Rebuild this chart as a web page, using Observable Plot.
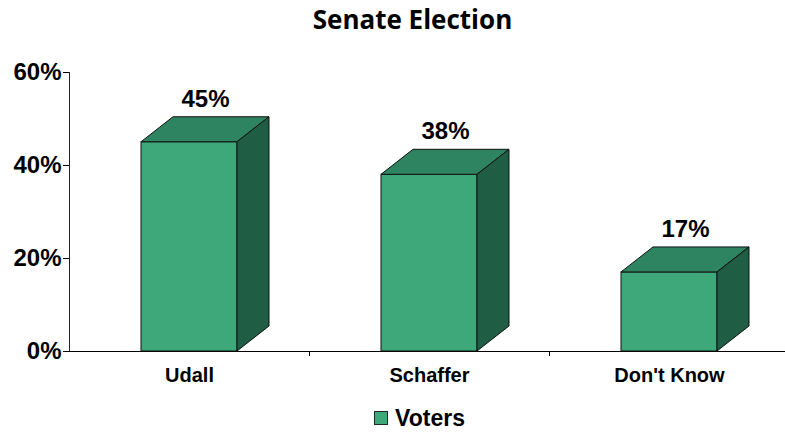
<!DOCTYPE html>
<html><head><meta charset="utf-8">
<script src="https://cdn.jsdelivr.net/npm/d3@7"></script>
<script src="https://cdn.jsdelivr.net/npm/@observablehq/plot@0.6"></script>
<style>
html,body{margin:0;padding:0;background:#fff;}
body{width:785px;height:433px;overflow:hidden;position:relative;font-family:"Liberation Sans",Arial,sans-serif;color:#000;}
#title{position:absolute;left:0;top:0;width:785px;height:38px;line-height:38px;text-align:center;font-family:"Open Sans",sans-serif;font-weight:bold;font-size:26px;}
#title span{position:relative;left:20px;}
#chart{position:absolute;left:0;top:40px;width:789px;}
#legend{position:absolute;left:0;top:402px;width:785px;height:32px;display:flex;align-items:center;justify-content:center;font-weight:bold;font-size:23px;}
#legend .in{position:relative;left:27px;display:flex;align-items:center;}
#legend .sw{display:inline-block;width:12px;height:12px;border:1px solid #1a2a20;margin-right:7px;}
</style></head>
<body>
<div id="title"><span>Senate Election</span></div>
<div id="chart"></div>
<div id="legend"><div class="in"><span class="sw"></span><span id="legtext"></span></div></div>
<script>
const categories = ["Udall", "Schaffer", "Don't Know"];
const values = [45, 38, 17];
const yTicks = [0, 20, 40, 60];
const seriesName = "Voters";

const frontColor = "#3EA87B";
const topColor = "#2E8461";
const sideColor = "#1F5E45";
const edgeColor = "#111";
const DX = 32, DY = 25;

const data = categories.map((c, i) => ({category: c, value: values[i]}));

function poly(doc, pts, fill) {
  const p = doc.createElementNS("http://www.w3.org/2000/svg", "polygon");
  p.setAttribute("points", pts.map(q => q.join(",")).join(" "));
  p.setAttribute("fill", fill);
  p.setAttribute("stroke", edgeColor);
  p.setAttribute("stroke-width", 1);
  p.setAttribute("stroke-linejoin", "round");
  return p;
}
function line(doc, x1, y1, x2, y2, color) {
  const l = doc.createElementNS("http://www.w3.org/2000/svg", "line");
  l.setAttribute("x1", x1); l.setAttribute("y1", y1);
  l.setAttribute("x2", x2); l.setAttribute("y2", y2);
  l.setAttribute("stroke", color); l.setAttribute("stroke-width", 1);
  return l;
}

const bars = Plot.barY(data, {
  x: "category", y: "value", fill: frontColor, stroke: edgeColor, strokeWidth: 1,
  render(index, scales, vals, dims, context, next) {
    const g = next(index, scales, vals, dims, context);
    const doc = context.document;
    const rects = Array.from(g.querySelectorAll("rect"));
    const y0 = scales.y(0);
    const boxes = rects.map(r => ({
      x: +r.getAttribute("x"), w: +r.getAttribute("width"),
      y: +r.getAttribute("y"), h: +r.getAttribute("height")
    }));
    const xl = dims.marginLeft, xr = dims.width - dims.marginRight;
    g.insertBefore(line(doc, xl, y0 + 0.5, xr, y0 + 0.5, "#000"), g.firstChild);
    g.insertBefore(line(doc, xl + 0.5, scales.y(d3.max(yTicks)), xl + 0.5, y0 + 0.5, "#222"), g.firstChild);
    const step = boxes.length > 1 ? boxes[1].x - boxes[0].x : boxes[0].w * 2.5;
    boxes.forEach(b => {
      const bx = b.x + b.w / 2 + step / 2;
      g.appendChild(line(doc, Math.round(bx) + 0.5, y0, Math.round(bx) + 0.5, y0 + 5, "#000"));
      const x0 = b.x, x1 = b.x + b.w, yt = b.y, yb = b.y + b.h;
      g.appendChild(poly(doc, [[x0, yt], [x1, yt], [x1 + DX, yt - DY], [x0 + DX, yt - DY]], topColor));
      g.appendChild(poly(doc, [[x1, yt], [x1 + DX, yt - DY], [x1 + DX, yb - DY], [x1, yb]], sideColor));
    });
    return g;
  }
});

const chart = Plot.plot({
  width: 789,
  height: 360,
  marginLeft: 69,
  marginRight: 0,
  marginTop: 32,
  marginBottom: 49,
  style: {fontFamily: "'Liberation Sans', Arial, sans-serif", color: "#000", background: "transparent", overflow: "visible", maxWidth: "none"},
  x: {domain: categories, paddingInner: 0.6, paddingOuter: 0.3},
  y: {domain: [0, 60]},
  marks: [
    bars,
    Plot.axisY({ticks: yTicks, tickFormat: d => d + "%", tickSize: 6, tickPadding: 2, fontSize: 24, fontWeight: "bold", label: null}),
    Plot.axisX({tickSize: 0, tickPadding: 16, fontSize: 20, fontWeight: "bold", label: null}),
    Plot.text(data, {x: "category", y: "value", text: d => d.value + "%", dx: DX / 2, dy: -43, fontSize: 24, fontWeight: "bold", fill: "#000"})
  ]
});
document.getElementById("chart").appendChild(chart);
document.getElementById("legtext").textContent = seriesName;
document.querySelector("#legend .sw").style.background = frontColor;
</script>
</body></html>
